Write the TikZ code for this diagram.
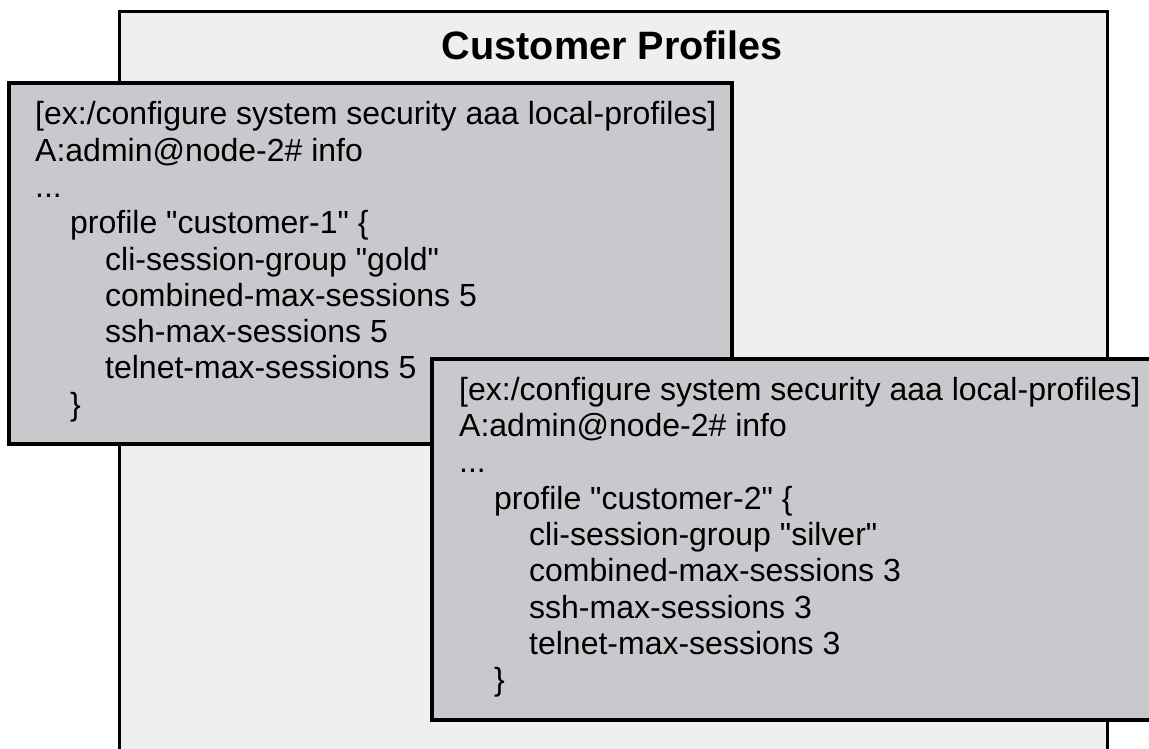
\documentclass[tikz,border=0pt]{standalone}
\usepackage{fontspec}
\setmainfont{Liberation Sans}
\definecolor{outerfill}{HTML}{EFEFEF}
\definecolor{cardfill}{HTML}{C9C8CD}
\tikzset{
  outerbox/.style={draw=black, line width=3pt, fill=outerfill},
  cardbox/.style={draw=black, line width=3.5pt, fill=cardfill},
  cardtext/.style={anchor=north west, inner sep=0pt, align=left, font=\fontsize{32}{36.3}\selectfont},
  titletext/.style={anchor=base, inner sep=0pt, font=\fontsize{39.6}{44}\selectfont\bfseries}
}
\newcommand{\indA}{\hspace*{35pt}}
\newcommand{\indB}{\hspace*{70pt}}
\newcommand{\qq}{\textquotedbl}
\begin{document}
\begin{tikzpicture}[x=1pt,y=-1pt]
\useasboundingbox (0,0) rectangle (1149,749);
\clip (0,0) rectangle (1149,749);
\path[outerbox] (119,12) rectangle (1107,820);
\node[titletext] (title) at (612.5,60) {Customer Profiles};
\path[cardbox] (9,83) rectangle (732,444);
\node[cardtext] (text1) at (35,101.5) {[ex:/configure system security aaa local-profiles]\\
A:admin@node-2\# info\\
...\\
\indA profile \qq customer-1\qq\ \{\\
\indB cli-session-group \qq gold\qq\\
\indB combined-max-sessions 5\\
\indB ssh-max-sessions 5\\
\indB telnet-max-sessions 5\\
\indA \}};
\path[cardbox] (432,359) rectangle (1175,720);
\node[cardtext] (text2) at (459,377) {[ex:/configure system security aaa local-profiles]\\
A:admin@node-2\# info\\
...\\
\indA profile \qq customer-2\qq\ \{\\
\indB cli-session-group \qq silver\qq\\
\indB combined-max-sessions 3\\
\indB ssh-max-sessions 3\\
\indB telnet-max-sessions 3\\
\indA \}};
\end{tikzpicture}
\end{document}
